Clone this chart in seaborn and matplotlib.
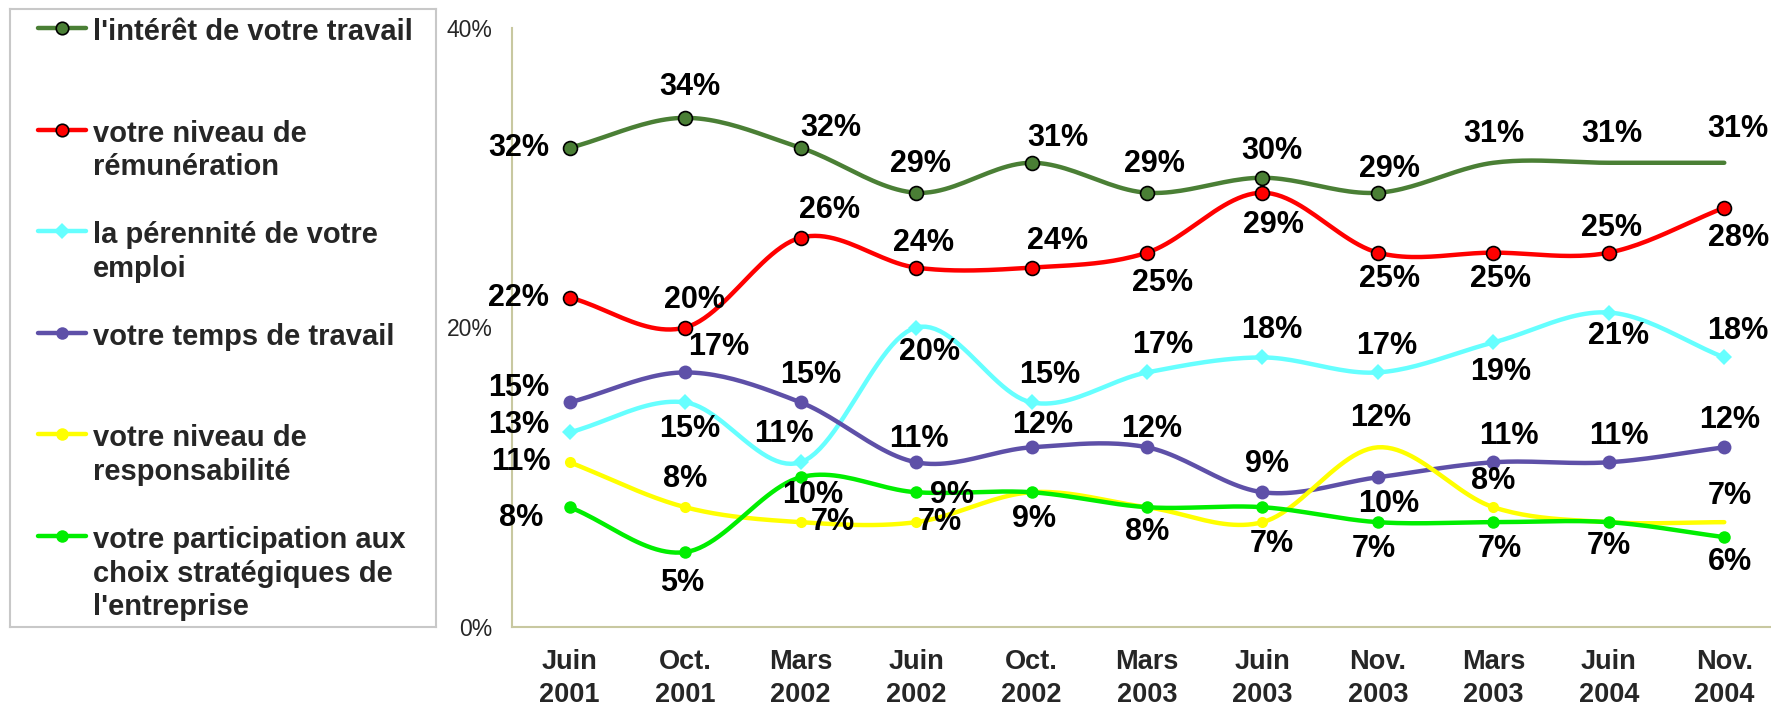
import numpy as np
import pandas as pd
import matplotlib
matplotlib.use("Agg")
import matplotlib.pyplot as plt
import seaborn as sns

# data
periods = ["Juin\n2001", "Oct.\n2001", "Mars\n2002", "Juin\n2002", "Oct.\n2002", "Mars\n2003",
           "Juin\n2003", "Nov.\n2003", "Mars\n2003", "Juin\n2004", "Nov.\n2004"]

interet = [32, 34, 32, 29, 31, 29, 30, 29, 31, 31, 31]
remuneration = [22, 20, 26, 24, 24, 25, 29, 25, 25, 25, 28]
perennite = [13, 15, 11, 20, 15, 17, 18, 17, 19, 21, 18]
temps = [15, 17, 15, 11, 12, 12, 9, 10, 11, 11, 12]
responsabilite = [11, 8, 7, 7, 9, 8, 7, 12, 8, 7, 7]
participation = [8, 5, 10, 9, 9, 8, 8, 7, 7, 7, 6]

names = ["l'intérêt de votre travail",
         "votre niveau de\nrémunération",
         "la pérennité de votre\nemploi",
         "votre temps de travail",
         "votre niveau de\nresponsabilité",
         "votre participation aux\nchoix stratégiques de\nl'entreprise"]

series = [interet, remuneration, perennite, temps, responsabilite, participation]

# styles
colors = ["#4A7F35", "#FF0000", "#66FFFF", "#5E50A8", "#FFFF00", "#00EE00"]
markers = ["o", "o", "D", "o", "o", "o"]
msizes = [10, 10, 8, 10, 8, 9]
edges = ["black", "black", "none", "none", "none", "none"]
mark_every = [range(8), range(11), range(11), range(11),
              [0, 1, 2, 3, 4, 5, 6, 8, 9], range(11)]

# label offsets in points (None = no label)
offsets = [
    [(-37, 0), (3, 22), (22, 14), (3, 21), (19, 18), (5, 21), (7, 19), (8, 17), (0, 21), (2, 21), (10, 24)],
    [(-37, 0), (7, 20), (21, 20), (5, 18), (19, 19), (11, -22), (8, -23), (8, -19), (5, -19), (2, 18), (10, -22)],
    [(-37, 5), (3, -19), (-12, 20), (10, -18), (13, 20), (11, 20), (7, 20), (6, 19), (5, -21), (7, -17), (10, 19)],
    [(-37, 10), (24, 18), (7, 20), (2, 17), (8, 16), (3, 13), (3, 20), (8, -19), (11, 19), (7, 19), (4, 20)],
    [(-35, 0), (0, 20), (23, 0), (17, 0), (2, -19), None, (7, -16), (2, 21), (0, 19), None, (4, 19)],
    [(-35, -8), (-2, -22), (9, -13), (26, -2), None, (0, -18), None, (-3, -19), (5, -19), (0, -17), (4, -18)],
]


def smooth(y, n=24):
    # Catmull-Rom curve through the points (like Excel's smoothed line)
    x = np.arange(len(y), dtype=float)
    y = np.asarray(y, dtype=float)
    px = np.concatenate([[2 * x[0] - x[1]], x, [2 * x[-1] - x[-2]]])
    py = np.concatenate([[2 * y[0] - y[1]], y, [2 * y[-1] - y[-2]]])
    xs, ys = [], []
    t = np.linspace(0, 1, n, endpoint=False)
    for i in range(1, len(px) - 2):
        for arr, out in ((px, xs), (py, ys)):
            p0, p1, p2, p3 = arr[i - 1], arr[i], arr[i + 1], arr[i + 2]
            out.extend(0.5 * (2 * p1 + (-p0 + p2) * t + (2 * p0 - 5 * p1 + 4 * p2 - p3) * t ** 2
                              + (-p0 + 3 * p1 - 3 * p2 + p3) * t ** 3))
    xs.append(x[-1])
    ys.append(y[-1])
    return np.array(xs), np.array(ys)


sns.set_style("white")
plt.rcParams["font.family"] = ["Liberation Sans", "DejaVu Sans"]

fig = plt.figure(figsize=(17.71, 7.05), dpi=100)
ax = fig.add_axes([512 / 1771, 78 / 705, 1270 / 1771, 599 / 705])

x = np.arange(len(periods))
for vals, col, mk, ms, ec, me, offs in zip(series, colors, markers, msizes, edges, mark_every, offsets):
    sx, sy = smooth(vals)
    curve = pd.DataFrame({"x": sx, "y": sy})
    sns.lineplot(data=curve, x="x", y="y", sort=False, estimator=None, color=col, lw=3.2, ax=ax, zorder=2)
    idx = list(me)
    ax.plot(x[idx], np.asarray(vals)[idx], ls="none", marker=mk, ms=ms, mfc=col, mec=ec,
            mew=1.2, zorder=3)
    for xi, v, o in zip(x, vals, offs):
        if o is None:
            continue
        ax.annotate(f"{v}%", (xi, v), xytext=o, textcoords="offset points", ha="center",
                    va="center", fontsize=22, fontweight="bold", color="black", zorder=4)

spine_col = "#C8C8A0"
ax.set_xlim(-0.5, len(periods) - 0.5)
ax.set_ylim(0, 40)
ax.set_yticks([0, 20, 40])
ax.set_yticklabels(["0%", "20%", "40%"], fontsize=16.5)
ax.set_xticks(x)
ax.set_xticklabels(periods, fontsize=19.5, fontweight="bold", linespacing=1.35)
ax.set_xticks(np.arange(len(periods) - 1) + 0.5, minor=True)
ax.tick_params(axis="x", which="major", length=0, pad=16)
ax.tick_params(axis="x", which="minor", length=9, color=spine_col, width=1.5, direction="out")
ax.tick_params(axis="y", length=6, color=spine_col, width=1.5, direction="out", pad=8)
ax.set_xlabel("")
ax.set_ylabel("")
for s in ["top", "right"]:
    ax.spines[s].set_visible(False)
for s in ["left", "bottom"]:
    ax.spines[s].set_color(spine_col)
    ax.spines[s].set_linewidth(1.5)
ax.grid(False)

# legend box drawn in its own axes, pixel-like coordinates
lax = fig.add_axes([10 / 1771, 78 / 705, 426 / 1771, 618 / 705])
lax.set_xlim(0, 426)
lax.set_ylim(618, 0)
lax.set_xticks([])
lax.set_yticks([])
for s in lax.spines.values():
    s.set_color("#C8C8C8")
    s.set_linewidth(1.5)
for i, (name, col, mk, ec) in enumerate(zip(names, colors, markers, edges)):
    yy = 19 + i * 101.6
    lax.plot([28, 76], [yy, yy], color=col, lw=3.2)
    lax.plot([52], [yy], marker=mk, ms=9 if mk == "o" else 8, mfc=col, mec=ec, mew=1.2)
    lax.text(83, yy - 10, name, fontsize=21, fontweight="bold", va="top", ha="left",
             linespacing=1.25)

fig.savefig("out.png", dpi=100)
